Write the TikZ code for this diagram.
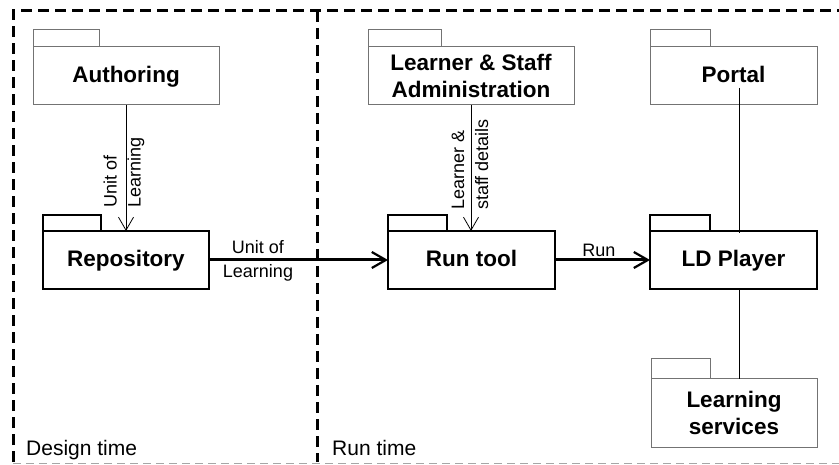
\documentclass[tikz,border=0pt]{standalone}
\usepackage{fontspec}
\setmainfont{Liberation Sans}
\usetikzlibrary{arrows.meta}
\begin{document}
\begin{tikzpicture}[x=1pt,y=-1pt,
  pkgthin/.style={draw=black!55, line width=1pt, inner sep=0pt, outer sep=0pt,
    font=\bfseries\fontsize{22.5}{27}\selectfont, align=center},
  pkgthick/.style={draw=black, line width=2.5pt, inner sep=0pt, outer sep=0pt,
    font=\bfseries\fontsize{22.5}{27}\selectfont, align=center},
  oneline/.style={text height=16pt, text depth=2pt},
  tabthin/.style={draw=black!55, line width=1pt},
  tabthick/.style={draw=black, line width=1.8pt},
  thinarrow/.style={draw=black, line width=0.8pt, -{Straight Barb[length=13pt,width=15pt]}},
  thickarrow/.style={draw=black, line width=3pt, -{Straight Barb[length=14pt,width=16pt,line width=2.2pt]}},
  plainline/.style={draw=black, line width=0.8pt},
  lbl/.style={inner sep=0pt, font=\fontsize{18}{24}\selectfont},
  zonelbl/.style={inner sep=0pt, anchor=base west, font=\fontsize{21}{25}\selectfont},
  border/.style={draw=black, line width=3pt, dash pattern=on 11pt off 6pt},
  bottomline/.style={draw=black!35, line width=1pt, dash pattern=on 8pt off 5pt}
]
\useasboundingbox (0,0) rectangle (839,465);

% zone borders
\draw[border] (13,462) -- (13,11) -- (839,11);
\draw[border] (317,11) -- (317,462);
\draw[bottomline] (13,463) -- (839,463);

% packages
\node[pkgthin, oneline, minimum width=186pt, minimum height=58pt] (auth) at (126,76) {Authoring};
\draw[tabthin] (auth.north west) rectangle ++(66,-17);

\node[pkgthin, minimum width=206pt, minimum height=58pt] (lsa) at (471,76) {Learner \& Staff\\Administration};
\draw[tabthin] (lsa.north west) rectangle ++(73,-17);

\node[pkgthin, oneline, minimum width=167pt, minimum height=58pt] (portal) at (733.5,76) {Portal};
\draw[tabthin] (portal.north west) rectangle ++(60,-17);

\node[pkgthick, oneline, minimum width=166pt, minimum height=58pt] (repo) at (126,260) {Repository};
\draw[tabthick] (repo.north west) rectangle ++(58,-16);

\node[pkgthick, oneline, minimum width=167pt, minimum height=58pt] (run) at (471.5,260) {Run tool};
\draw[tabthick] (run.north west) rectangle ++(59,-16);

\node[pkgthick, oneline, minimum width=167pt, minimum height=58pt] (ldp) at (733.5,260) {LD Player};
\draw[tabthick] (ldp.north west) rectangle ++(60,-16);

\node[pkgthin, minimum width=166pt, minimum height=68pt] (ls) at (734,413) {Learning\\services};
\draw[tabthin] (ls.north west) rectangle ++(59,-20);

% connectors
\draw[thinarrow] (auth.south) -- (repo.north);
\node[lbl, rotate=90, anchor=west, align=left] (l1) at (124,208) {Unit of\\Learning};

\draw[thinarrow] (lsa.south) -- (lsa.south |- run.north);
\node[lbl, rotate=90, anchor=west, align=left] (l2) at (470,210) {Learner \&\\staff details};

\draw[thickarrow] (repo.east) -- (run.west);
\node[lbl, align=center] (l3) at (258,261) {Unit of\\Learning};

\draw[thickarrow] (run.east) -- (ldp.west);
\node[lbl] (l4) at (599,250) {Run};

\coordinate (pl) at ([shift={(5.5,12)}]portal.center);
\draw[plainline] (pl) -- ([shift={(5.5,2)}]ldp.north);
\draw[plainline] ([shift={(5.5,0)}]ldp.south) -- ([shift={(5,0)}]ls.north);

% zone labels
\node[zonelbl] (dt) at (26,455) {Design time};
\node[zonelbl] (rt) at (332,455) {Run time};
\end{tikzpicture}
\end{document}
